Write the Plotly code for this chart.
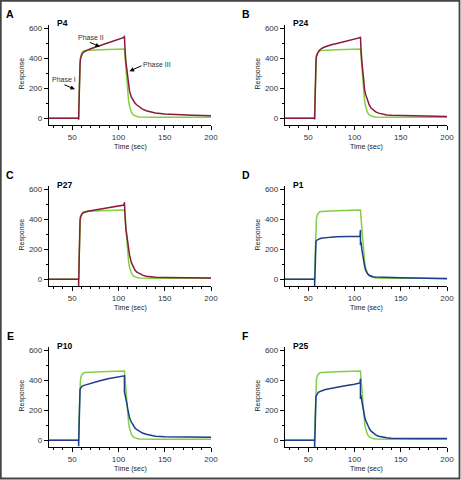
import plotly.graph_objects as go

# ---------------- data ----------------
TIME = [25, 57, 57, 57.5, 58, 58.5, 59, 60, 61, 62, 64, 67, 70, 75, 80, 90, 100, 106,
        106.5, 106.5, 107, 108, 109, 110, 111, 112, 114, 116, 118, 120, 123, 126, 130,
        135, 140, 150, 165, 180, 200]

REF_GREEN = [0, 0, 0, 150, 300, 370, 405, 430, 440, 446, 450, 452, 453, 454, 455, 456, 457, 458,
             460, 458, 420, 330, 240, 170, 115, 80, 40, 22, 14, 11, 9, 8, 8,
             7, 7, 7, 6, 6, 6]

P4 = [0, 0, -10, 180, 300, 360, 395, 418, 430, 438, 447, 455, 462, 473, 483, 504, 525, 537,
      548, 540, 470, 380, 320, 260, 215, 180, 140, 117, 100, 88, 72, 61, 50,
      41, 35, 28, 23, 20, 17]

P24 = [0, 0, -8, 200, 330, 390, 415, 432, 442, 450, 462, 472, 480, 489, 496, 512, 526, 536,
       542, 535, 470, 380, 300, 230, 190, 160, 115, 88, 68, 55, 42, 34, 27,
       22, 20, 18, 16, 14, 12]

P27 = [0, 0, -45, 200, 330, 390, 415, 428, 436, 442, 448, 452, 456, 461, 466, 476, 486, 493,
       512, 500, 440, 340, 290, 235, 190, 160, 110, 80, 60, 47, 35, 27, 20,
       16, 14, 12, 10, 9, 8]

P1 = [0, 0, -45, 120, 230, 252, 258, 262, 266, 268, 272, 275, 277, 280, 282, 284, 285, 286,
      328, 228, 250, 200, 150, 115, 85, 62, 38, 26, 20, 17, 15, 14, 13,
      12, 11, 10, 8, 6, 4]

P10 = [0, 0, -40, 200, 310, 335, 345, 357, 360, 363, 367, 372, 378, 387, 395, 410, 421, 428,
       428, 322, 300, 275, 247, 210, 180, 150, 120, 96, 80, 70, 57, 48, 40,
       31, 27, 23, 21, 20, 20]

P25 = [0, 0, -45, 200, 270, 290, 298, 312, 318, 322, 328, 334, 339, 346, 352, 363, 373, 381,
       409, 274, 300, 260, 220, 185, 158, 135, 100, 78, 60, 48, 36, 27, 20,
       16, 14, 12, 11, 11, 11]

PANEL_LETTERS = ["A", "B", "C", "D", "E", "F"]
PANEL_TITLES = ["P4", "P24", "P27", "P1", "P10", "P25"]
PANEL_SERIES = [P4, P24, P27, P1, P10, P25]
X_TICKS = [50, 100, 150, 200]
Y_TICKS = [0, 200, 400, 600]
X_TITLE = "Time (sec)"
Y_TITLE = "Response"

# ---------------- styling / layout ----------------
RED = "#8a1a36"
BLUE = "#1e3c8c"
GREEN = "#80d045"
PANEL_COLORS = [RED, RED, RED, BLUE, BLUE, BLUE]

W, H = 461, 480
COLS = [(49, 211), (285, 447)]
ROWS = [(25, 125), (186, 286), (347, 447)]
XR = [25, 200]
YR = [-45, 620]

FONT = "Liberation Sans, Arial, sans-serif"


def px(x):
    return x / W


def py(y):
    return 1 - y / H


fig = go.Figure()
layout = dict(width=W, height=H, margin=dict(l=0, r=0, t=0, b=0, autoexpand=False),
              paper_bgcolor="white", plot_bgcolor="white", showlegend=False)
annotations = []

for i in range(6):
    r, c = divmod(i, 2)
    x0, x1 = COLS[c]
    y0, y1 = ROWS[r]
    sfx = "" if i == 0 else str(i + 1)
    xa, ya = "x" + sfx, "y" + sfx

    fig.add_trace(go.Scatter(x=TIME, y=REF_GREEN, mode="lines", xaxis=xa, yaxis=ya,
                             line=dict(color=GREEN, width=1.5), hoverinfo="skip"))
    fig.add_trace(go.Scatter(x=TIME, y=PANEL_SERIES[i], mode="lines", xaxis=xa, yaxis=ya,
                             line=dict(color=PANEL_COLORS[i], width=1.5), hoverinfo="skip"))

    layout["xaxis" + sfx] = dict(
        domain=[px(x0), px(x1)], range=XR, anchor=ya, showline=True, linecolor="black",
        linewidth=1.3, ticks="outside", ticklen=4, tickwidth=1, tickcolor="black",
        tickvals=X_TICKS, tickfont=dict(size=8, color="#333", family=FONT),
        showgrid=False, zeroline=False, fixedrange=True,
        minor=dict(dtick=10, tick0=0, ticks="outside", ticklen=2, tickcolor="black",
                   showgrid=False))
    layout["yaxis" + sfx] = dict(
        domain=[py(y1), py(y0)], range=YR, anchor=xa, showline=True, linecolor="black",
        linewidth=1.3, ticks="outside", ticklen=4, tickwidth=1, tickcolor="black",
        tickvals=Y_TICKS, tickfont=dict(size=8, color="#333", family=FONT),
        showgrid=False, zeroline=False, fixedrange=True,
        minor=dict(dtick=100, tick0=0, ticks="outside", ticklen=2, tickcolor="black",
                   showgrid=False))

    # panel letter
    annotations.append(dict(text="<b>%s</b>" % PANEL_LETTERS[i], xref="paper", yref="paper",
                            x=px(x0 - 39), y=py(y0 - 11), xanchor="center", yanchor="middle",
                            showarrow=False, font=dict(size=10.5, color="black", family=FONT)))
    # panel title
    annotations.append(dict(text="<b>%s</b>" % PANEL_TITLES[i], xref="paper", yref="paper",
                            x=px(x0 + 5.5), y=py(y0 - 1.5), xanchor="left", yanchor="middle",
                            showarrow=False, font=dict(size=8.5, color="black", family=FONT)))
    # axis titles
    annotations.append(dict(text=Y_TITLE, xref="paper", yref="paper", textangle=-90,
                            x=px(x0 - 27.5), y=py((y0 + y1) / 2 - 1), xanchor="center",
                            yanchor="middle", showarrow=False,
                            font=dict(size=7, color="#222", family=FONT)))
    annotations.append(dict(text=X_TITLE, xref="paper", yref="paper",
                            x=px((x0 + x1) / 2), y=py(y1 + 21.5), xanchor="center",
                            yanchor="middle", showarrow=False,
                            font=dict(size=7, color="#222", family=FONT)))

# phase labels in panel A
PHASE_TEXT = [("Phase I", 41, 257), ("Phase II", 70, 537), ("Phase III", 142, 357)]
PHASE_ARROWS = [((40, 227), (53, 193)), ((67.5, 509), (80, 475)), ((126.5, 353), (112, 313))]
for txt, tx, ty in PHASE_TEXT:
    annotations.append(dict(text=txt, xref="x", yref="y", x=tx, y=ty, showarrow=False,
                            xanchor="center", yanchor="middle",
                            font=dict(size=7, color="#333", family=FONT)))
for (ax_, ay_), (hx, hy) in PHASE_ARROWS:
    annotations.append(dict(text="", xref="x", yref="y", axref="x", ayref="y",
                            x=hx, y=hy, ax=ax_, ay=ay_, showarrow=True, arrowhead=2,
                            arrowsize=0.9, arrowwidth=1, arrowcolor="black", standoff=0))

layout["annotations"] = annotations
layout["shapes"] = [dict(type="rect", xref="paper", yref="paper", x0=px(0.8), x1=px(459.5),
                         y0=py(478.5), y1=py(0.8), line=dict(color="#444", width=1.8))]

fig.update_layout(**layout)
fig.write_html("out.html", config={"displayModeBar": False},
               post_script="document.body.style.margin='0';document.body.style.overflow='hidden';")
